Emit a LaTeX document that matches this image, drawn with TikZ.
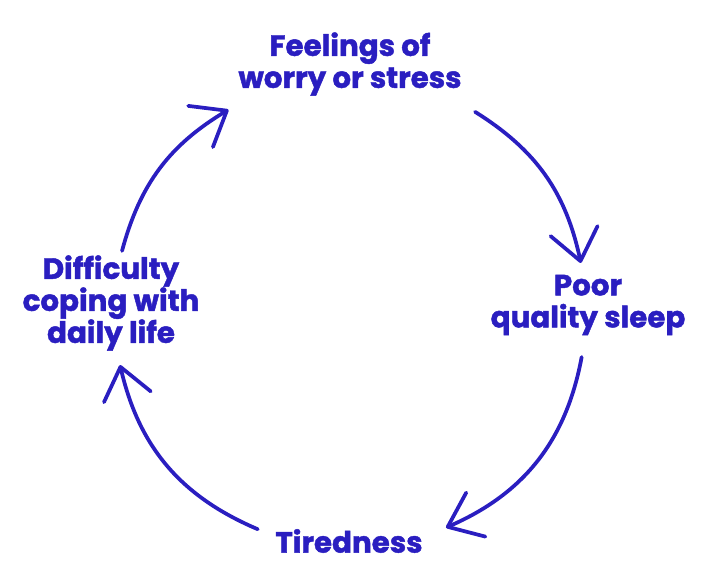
\documentclass[tikz,border=0pt]{standalone}
\usepackage{fontspec}
\setmainfont{Poppins}[BoldFeatures={FakeBold=1.5}]
\usepackage{tikz}
\usetikzlibrary{arrows.meta}
\definecolor{cycleblue}{RGB}{42,30,192}
\tikzset{
    step label/.style={font=\bfseries\fontsize{22}{24}\selectfont, text=cycleblue, align=center, inner sep=0pt},
    cycle arrow/.style={cycleblue, line width=2.8pt, line cap=round, line join=round,
        -{Straight Barb[length=23pt, width=36pt, line cap=round, line join=round]}}
}

\begin{document}
\begin{tikzpicture}[x=0.75pt, y=0.75pt]
    \useasboundingbox (0,0) rectangle (708,571);

    % centre of the cycle
    \coordinate (c) at (350,259);

    % the four steps
    \node[step label] (feel) at (350,507) {Feelings of\\worry or stress};
    \node[step label] (sleep) at (588,266) {Poor\\quality sleep};
    \node[step label] (tired) at (349,30) {Tiredness};
    \node[step label] (cope) at (111,268) {Difficulty\\coping with\\daily life};

    % start and end points of the arrows on the ring
    \foreach \name/\angle in {s1/58, e1/12, s2/-11, e2/-66, s3/-113, e3/-167, s4/165, e4/121}
        \coordinate (\name) at ([shift={(\angle:236)}]c);

    % Draw the arrows round the ring
    \draw[cycle arrow] (s1) to[bend left=23] (e1);
    \draw[cycle arrow] (s2) to[bend left=28] (e2);
    \draw[cycle arrow] (s3) to[bend left=27] (e3);
    \draw[cycle arrow] (s4) to[bend left=22] (e4);
\end{tikzpicture}
\end{document}
